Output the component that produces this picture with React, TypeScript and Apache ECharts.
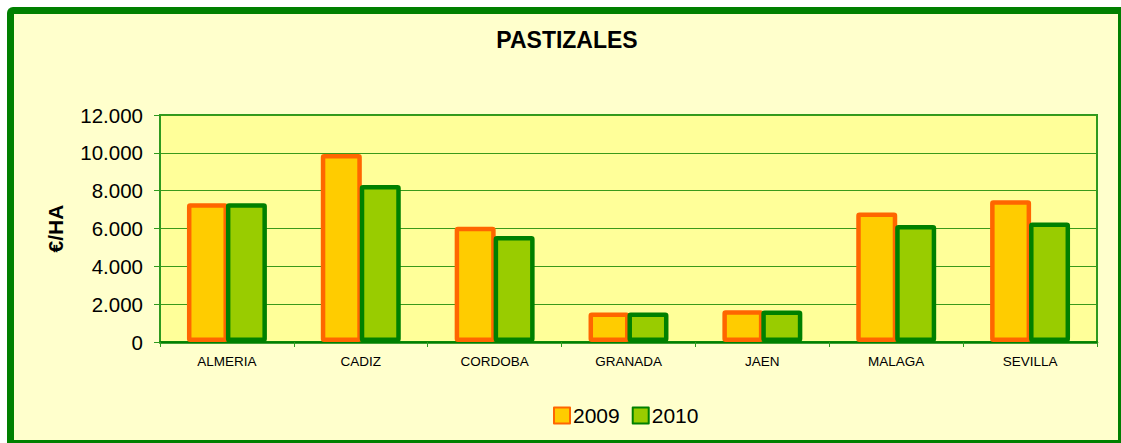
import React, { useEffect, useRef } from "react";
import * as echarts from "echarts";

const categories = ["ALMERIA", "CADIZ", "CORDOBA", "GRANADA", "JAEN", "MALAGA", "SEVILLA"];
const values2009 = [7330, 9940, 6090, 1560, 1680, 6850, 7500];
const values2010 = [7330, 8300, 5600, 1560, 1670, 6180, 6320];
const seriesNames = ["2009", "2010"];
const yTicks = { min: 0, max: 12000, interval: 2000 };
const chartTitle = "PASTIZALES";
const yAxisName = "€/HA";

const FONT = "'Liberation Sans', Arial, sans-serif";

function fmt(v: number): string {
  return String(v).replace(/\B(?=(\d{3})+(?!\d))/g, ".");
}

export default function App() {
  const ref = useRef<HTMLDivElement>(null);
  useEffect(() => {
    if (!ref.current) return;
    const chart = echarts.init(ref.current, null, { renderer: "svg" });
    chart.setOption({
      animation: false,
      backgroundColor: "#ffffff",
      graphic: [
        {
          type: "rect",
          z: -10,
          silent: true,
          shape: { x: 7, y: 7, width: 1114, height: 436, r: [6, 0, 0, 0] },
          style: { fill: "#008000" },
        },
        {
          type: "rect",
          z: -9,
          silent: true,
          shape: { x: 14, y: 14, width: 1104, height: 426 },
          style: { fill: "#FFFFCC" },
        },
        {
          type: "text",
          z: 5,
          x: 567,
          y: 40,
          style: {
            text: chartTitle,
            fill: "#000000",
            font: `bold 23px ${FONT}`,
            textAlign: "center",
            textVerticalAlign: "middle",
          },
        },
      ],
      legend: {
        data: seriesNames,
        left: 553,
        top: 405,
        padding: 0,
        itemWidth: 16,
        itemHeight: 16,
        itemGap: 12,
        icon: "rect",
        textStyle: { fontSize: 21, fontFamily: FONT, color: "#000", padding: [0, 0, 0, -2] },
      },
      grid: {
        left: 160,
        right: 24,
        top: 115,
        bottom: 101,
        show: true,
        backgroundColor: "#FFFF99",
        borderColor: "#2E9A1E",
        borderWidth: 2,
      },
      xAxis: {
        type: "category",
        data: categories,
        axisLine: { show: true, lineStyle: { color: "#008000", width: 2.5 } },
        axisTick: { show: true, alignWithLabel: false, length: 5, lineStyle: { color: "#2E9A1E", width: 1 } },
        axisLabel: { fontSize: 13.5, fontFamily: FONT, color: "#000", margin: 12 },
        splitLine: { show: false },
      },
      yAxis: {
        type: "value",
        min: yTicks.min,
        max: yTicks.max,
        interval: yTicks.interval,
        name: yAxisName,
        nameLocation: "middle",
        nameRotate: 90,
        nameGap: 94,
        nameTextStyle: { fontSize: 21, fontWeight: "bold", fontFamily: FONT, color: "#000" },
        axisLine: { show: true, lineStyle: { color: "#2E9A1E", width: 2 } },
        axisTick: { show: true, length: 6, lineStyle: { color: "#2E9A1E", width: 1 } },
        axisLabel: {
          fontSize: 20.5,
          fontFamily: FONT,
          color: "#000",
          margin: 17,
          formatter: (v: number) => fmt(v),
        },
        splitLine: { show: true, lineStyle: { color: "#3A9A1A", width: 1 } },
      },
      series: [
        {
          name: seriesNames[0],
          type: "bar",
          data: values2009,
          barWidth: 41,
          barGap: "-5%",
          itemStyle: {
            color: "#FFCC00",
            borderColor: "#FF6600",
            borderWidth: 4.5,
            borderJoin: "round",
            borderRadius: 1,
          },
        },
        {
          name: seriesNames[1],
          type: "bar",
          data: values2010,
          barWidth: 41,
          barGap: "-5%",
          itemStyle: {
            color: "#99CC00",
            borderColor: "#008000",
            borderWidth: 4.5,
            borderJoin: "round",
            borderRadius: 1,
          },
        },
      ],
    });
    return () => chart.dispose();
  }, []);
  return (
    <div
      ref={ref}
      style={{ position: "fixed", left: 0, top: 0, width: 1121, height: 443 }}
    />
  );
}
